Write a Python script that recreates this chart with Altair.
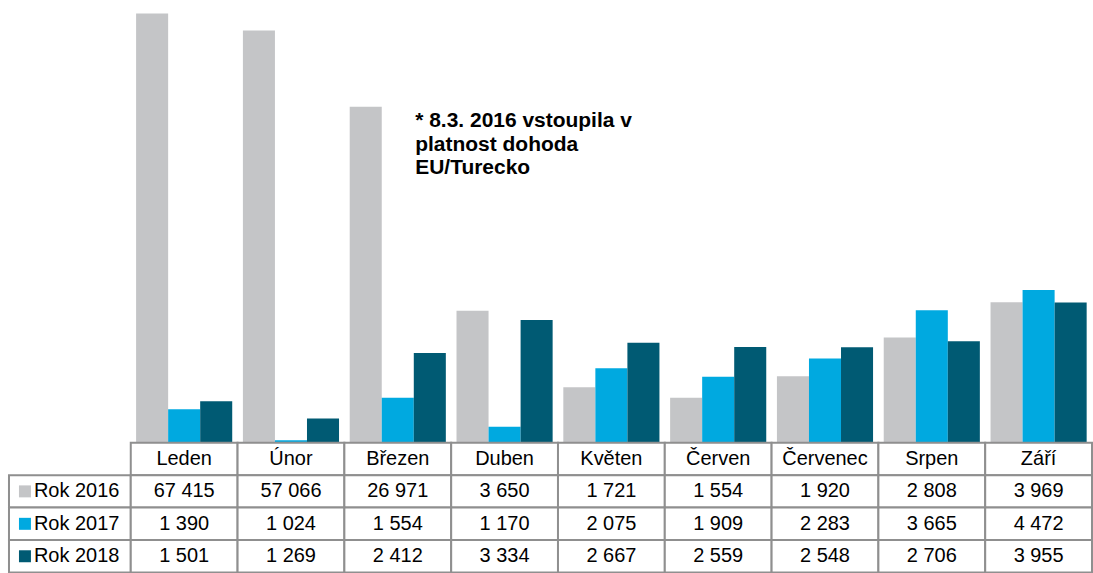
import altair as alt
import pandas as pd

months = ["Leden", "Únor", "Březen", "Duben", "Květen", "Červen", "Červenec", "Srpen", "Září"]
years = ["Rok 2016", "Rok 2017", "Rok 2018"]
v2016 = [67415, 57066, 26971, 3650, 1721, 1554, 1920, 2808, 3969]
v2017 = [1390, 1024, 1554, 1170, 2075, 1909, 2283, 3665, 4472]
v2018 = [1501, 1269, 2412, 3334, 2667, 2559, 2548, 2706, 3955]
colors = ["#c4c5c7", "#00a9e0", "#005a73"]
note = ["* 8.3. 2016 vstoupila v", "platnost dohoda", "EU/Turecko"]

FONT = "Liberation Sans"
GRID = "#8f8f8f"
FS = 20
W, H, LW, TH = 963, 443, 122, 130

rows = []
for yr, vals in zip(years, [v2016, v2017, v2018]):
    for m, v in zip(months, vals):
        rows.append({"month": m, "year": yr, "row": yr, "value": v,
                     "label": f"{v:,}".replace(",", " ")})
df = pd.DataFrame(rows)
head = pd.DataFrame({"month": months, "row": ["head"] * len(months), "label": months})
table_df = pd.concat([head, df[["month", "row", "label"]]], ignore_index=True)
row_order = ["head"] + years

color_scale = alt.Scale(domain=years, range=colors)

bars = alt.Chart(df).mark_bar().encode(
    x=alt.X("month:N", sort=months, axis=None,
            scale=alt.Scale(paddingInner=0.1, paddingOuter=0.05)),
    xOffset=alt.XOffset("year:N", sort=years,
                        scale=alt.Scale(paddingInner=0, paddingOuter=0)),
    y=alt.Y("value:Q", scale=alt.Scale(type="log", domain=[1000, 76500]), axis=None),
    y2=alt.datum(1000),
    color=alt.Color("year:N", scale=color_scale, legend=None),
)
annot = alt.Chart(pd.DataFrame({"t": [0]})).mark_text(
    align="left", baseline="top", fontSize=21, fontWeight="bold", font=FONT,
    lineHeight=23.5, color="black"
).encode(x=alt.value(285), y=alt.value(110), text=alt.value(note))
top = alt.layer(bars, annot).properties(width=W, height=H)

blank = alt.Chart(pd.DataFrame({"a": [0]})).mark_text(text="").encode(
    x=alt.X("a:Q", axis=None), y=alt.Y("a:Q", axis=None)
).properties(width=LW, height=H)

X = alt.X("month:N", sort=months, axis=None, scale=alt.Scale(paddingInner=0, paddingOuter=0))
Y = alt.Y("row:N", sort=row_order, axis=None,
          scale=alt.Scale(domain=row_order, paddingInner=0, paddingOuter=0))

table = alt.layer(
    alt.Chart(table_df).mark_rect(fill="white", stroke=GRID, strokeWidth=2).encode(x=X, y=Y),
    alt.Chart(table_df).mark_text(fontSize=FS, font=FONT, color="black").encode(
        x=X, y=Y, text="label:N"),
).properties(width=W, height=TH)

ldf = pd.DataFrame({"row": years, "col": ["c"] * 3, "year": years})
X0 = alt.X("col:N", axis=None, scale=alt.Scale(paddingInner=0, paddingOuter=0))
left = alt.layer(
    alt.Chart(ldf).mark_rect(fill="white", stroke=GRID, strokeWidth=2).encode(x=X0, y=Y),
    alt.Chart(ldf).mark_square(size=144, opacity=1).encode(
        x=alt.value(16), y=Y,
        color=alt.Color("year:N", scale=color_scale, legend=None)),
    alt.Chart(ldf).mark_text(align="left", fontSize=FS, font=FONT, color="black").encode(
        x=alt.value(25), y=Y, text="row:N"),
).properties(width=LW, height=TH)

chart = alt.concat(blank, top, left, table, columns=2, spacing=0, bounds="flush").properties(
    padding={"left": 8, "top": 0, "right": 0, "bottom": 0}
).configure_view(stroke=None).configure_text(font=FONT)

chart.save("out.html", embed_options={"renderer": "svg", "actions": False})
